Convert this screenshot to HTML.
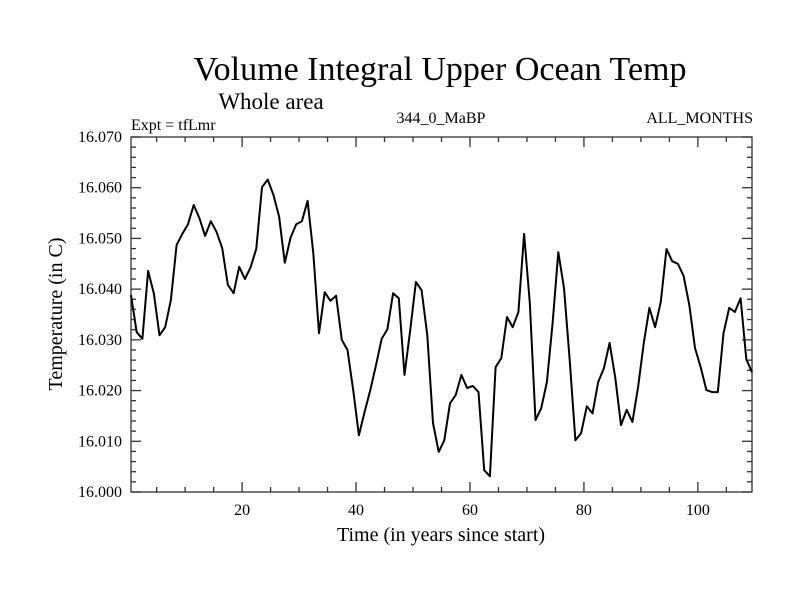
<!DOCTYPE html>
<html><head><meta charset="utf-8"><style>
html,body{margin:0;padding:0;background:#fff;}
svg{display:block;font-family:"Liberation Serif",serif;}
</style></head><body>
<svg id="chart" width="800" height="600" viewBox="0 0 800 600">
<rect width="800" height="600" fill="#fff"/>
<text x="440" y="80" font-size="34" text-anchor="middle">Volume Integral Upper Ocean Temp</text>
<text x="271" y="109" font-size="23" text-anchor="middle">Whole area</text>
<text x="131" y="130" font-size="16">Expt = tfLmr</text>
<text x="441" y="123" font-size="16" text-anchor="middle">344_0_MaBP</text>
<text x="753" y="123" font-size="16" text-anchor="end">ALL_MONTHS</text>
<text x="441" y="541" font-size="20" text-anchor="middle">Time (in years since start)</text>
<text transform="translate(62,314) rotate(-90)" font-size="20" text-anchor="middle">Temperature (in C)</text>
<g id="axes"></g>
<polyline id="series" fill="none" stroke="#000" stroke-width="2" stroke-linejoin="round"/>
</svg>
<script>
const years = [];
for (let i = 0; i < 110; i++) years.push(i + 0.5);
const temps = [16.0388,16.0315,16.0302,16.0436,16.0392,16.0309,16.0325,16.0379,16.0487,16.0509,
16.0528,16.0566,16.0540,16.0505,16.0534,16.0513,16.0481,16.0408,16.0392,16.0444,
16.0420,16.0443,16.0480,16.0601,16.0616,16.0586,16.0543,16.0452,16.0501,16.0528,
16.0534,16.0574,16.0471,16.0313,16.0394,16.0377,16.0387,16.0300,16.0280,16.0201,
16.0112,16.0158,16.0201,16.0250,16.0302,16.0321,16.0392,16.0382,16.0231,16.0319,
16.0414,16.0398,16.0309,16.0136,16.0079,16.0102,16.0175,16.0191,16.0231,16.0205,
16.0209,16.0197,16.0043,16.0031,16.0246,16.0264,16.0345,16.0325,16.0355,16.0509,
16.0373,16.0142,16.0165,16.0217,16.0333,16.0473,16.0402,16.0260,16.0102,16.0116,
16.0169,16.0155,16.0217,16.0244,16.0294,16.0225,16.0132,16.0162,16.0138,16.0207,
16.0294,16.0363,16.0325,16.0375,16.0479,16.0455,16.0450,16.0426,16.0369,16.0284,
16.0246,16.0201,16.0197,16.0197,16.0313,16.0363,16.0355,16.0382,16.0262,16.0236];
const xTicks = [20, 40, 60, 80, 100];
const yTicks = [16.000, 16.010, 16.020, 16.030, 16.040, 16.050, 16.060, 16.070];
const X0 = 131, X1 = 752, Y0 = 492, Y1 = 137;
const xMin = 0.5, xMax = 109.5, yMin = 16.0, yMax = 16.07;
const xs = v => X0 + (v - xMin) / (xMax - xMin) * (X1 - X0);
const ys = v => Y0 - (v - yMin) / (yMax - yMin) * (Y0 - Y1);
const NS = "http://www.w3.org/2000/svg";
const ax = document.getElementById('axes');
function line(x1,y1,x2,y2,name){
  const l = document.createElementNS(NS,'line');
  l.setAttribute('x1',x1);l.setAttribute('y1',y1);l.setAttribute('x2',x2);l.setAttribute('y2',y2);
  l.setAttribute('stroke','#333');l.setAttribute('stroke-width','1.3');
  
  
  ax.appendChild(l);
}
const frame = document.createElementNS(NS,'rect');
frame.setAttribute('x',X0);frame.setAttribute('y',Y1);frame.setAttribute('width',X1-X0);frame.setAttribute('height',Y0-Y1);
frame.setAttribute('fill','none');frame.setAttribute('stroke','#333');frame.setAttribute('stroke-width','1.3');


ax.appendChild(frame);
for (let t = 5; t <= 109; t += 5) {
  const x = xs(t), len = t % 20 === 0 ? 10 : 5;
  line(x, Y0, x, Y0 - len, 'x-tick');
  line(x, Y1, x, Y1 + len, 'x-tick-top');
}
xTicks.forEach(t => {
  const tx = document.createElementNS(NS,'text');
  tx.setAttribute('x', xs(t)); tx.setAttribute('y', 515);
  tx.setAttribute('font-size','16'); tx.setAttribute('text-anchor','middle');
  tx.textContent = t;
  
  
  ax.appendChild(tx);
});
for (let k = 0; k <= 35; k++) {
  const v = 16.0 + k * 0.002, y = ys(v), len = k % 5 === 0 ? 10 : 5;
  line(X0, y, X0 + len, y, 'y-tick');
  line(X1, y, X1 - len, y, 'y-tick-right');
}
yTicks.forEach(v => {
  const tx = document.createElementNS(NS,'text');
  tx.setAttribute('x', 122); tx.setAttribute('y', ys(v) + 5);
  tx.setAttribute('font-size','16'); tx.setAttribute('text-anchor','end');
  tx.textContent = v.toFixed(3);
  
  
  ax.appendChild(tx);
});
document.getElementById('series').setAttribute('points',
  temps.map((v,i) => xs(years[i]).toFixed(1) + ',' + ys(v).toFixed(1)).join(' '));
</script>
</body></html>
